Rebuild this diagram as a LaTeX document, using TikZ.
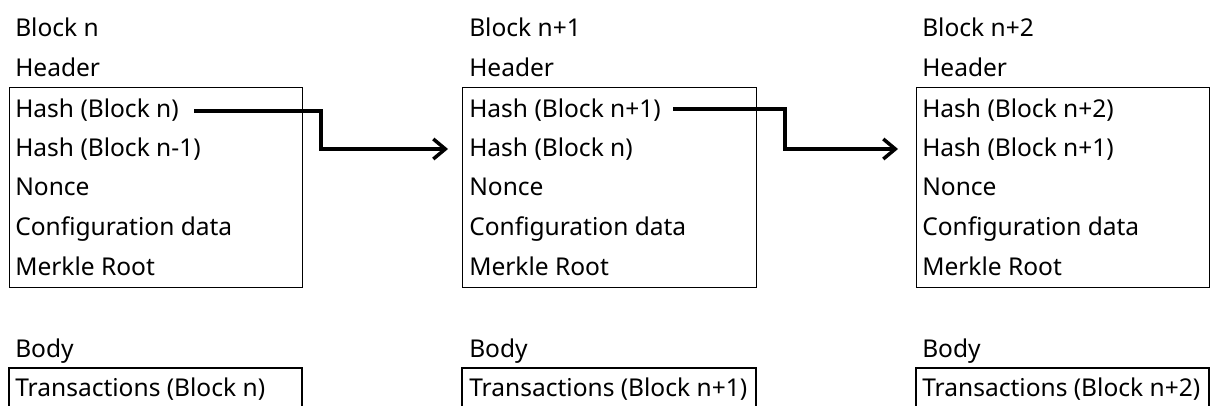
\documentclass[tikz,border=0pt]{standalone}
\usepackage{fontspec}
\setmainfont{Noto Sans}
\usetikzlibrary{arrows.meta,calc}
\begin{document}
\begin{tikzpicture}[x=0.75pt,y=-0.75pt,
  lbl/.style={anchor=base west,inner sep=0pt,font=\fontsize{18.4}{22}\selectfont},
  frame/.style={draw=black,line width=0.9pt},
  link/.style={line width=2.6pt,-{Straight Barb[length=9pt,width=15pt,line width=2.6pt]}}]
\useasboundingbox (0,0) rectangle (1211,406);
\clip (0,0) rectangle (1211,406);
% block frames
\foreach \i/\l/\r in {1/9/302,2/462/756,3/916/1209}{
  \node[frame,inner sep=0pt,minimum width={(\r-\l)*0.75pt},minimum height={200*0.75pt},anchor=north west] (hb\i) at (\l,87) {};
  \draw[frame] (\l,420) -- (\l,368) -- (\r,368) -- (\r,420);
}
% block 1
\node[lbl] (t1) at (15,37) {Block n};
\node[lbl] (hd1) at (15,77) {Header};
\node[lbl] (a1) at (15,118) {Hash (Block n)};
\node[lbl] (b1) at (15,157) {Hash (Block n-1)};
\node[lbl] (c1) at (15,196) {Nonce};
\node[lbl] (d1) at (15,236) {Configuration data};
\node[lbl] (e1) at (15,276) {Merkle Root};
\node[lbl] (bd1) at (15,357) {Body};
\node[lbl] (tx1) at (15,396) {Transactions (Block n)};
% block 2
\node[lbl] (t2) at (469,37) {Block n+1};
\node[lbl] (hd2) at (469,77) {Header};
\node[lbl] (a2) at (469,118) {Hash (Block n+1)};
\node[lbl] (b2) at (469,157) {Hash (Block n)};
\node[lbl] (c2) at (469,196) {Nonce};
\node[lbl] (d2) at (469,236) {Configuration data};
\node[lbl] (e2) at (469,276) {Merkle Root};
\node[lbl] (bd2) at (469,357) {Body};
\node[lbl] (tx2) at (469,396) {Transactions (Block n+1)};
% block 3
\node[lbl] (t3) at (922,37) {Block n+2};
\node[lbl] (hd3) at (922,77) {Header};
\node[lbl] (a3) at (922,118) {Hash (Block n+2)};
\node[lbl] (b3) at (922,157) {Hash (Block n+1)};
\node[lbl] (c3) at (922,196) {Nonce};
\node[lbl] (d3) at (922,236) {Configuration data};
\node[lbl] (e3) at (922,276) {Merkle Root};
\node[lbl] (bd3) at (922,357) {Body};
\node[lbl] (tx3) at (922,396) {Transactions (Block n+2)};
% links
\coordinate (k1) at (321,0);
\coordinate (k2) at (785,0);
\draw[link] ($(a1.base east)+(15,-7)$) -- ($(k1 |- a1.base)+(0,-7)$) -- ($(k1 |- b2.base)+(0,-8)$) -- ($(hb2.west |- b2.base)+(-14,-8)$);
\draw[link] ($(a2.base east)+(12,-9)$) -- ($(k2 |- a2.base)+(0,-9)$) -- ($(k2 |- b3.base)+(0,-8)$) -- ($(hb3.west |- b3.base)+(-18,-8)$);
\end{tikzpicture}
\end{document}
